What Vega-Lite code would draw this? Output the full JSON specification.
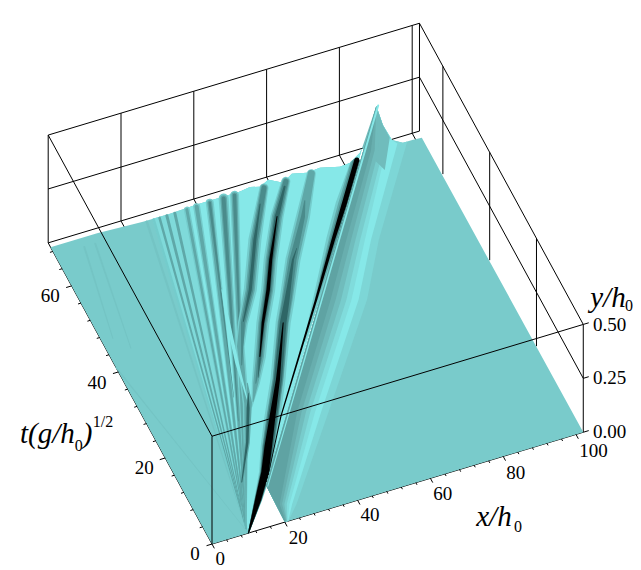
{"$schema":"https://vega.github.io/schema/vega-lite/v6.json","width":641,"height":570,"padding":0,"autosize":{"type":"fit","contains":"padding"},"background":"white","config":{"view":{"stroke":null}},
"data":{"values":[
{"k":"b","x":0,"t":70,"xe":102,"te":70},{"k":"b","x":0,"t":70,"y":0.25,"xe":102,"te":70,"ye":0.25},{"k":"b","x":0,"t":70,"y":0.5,"xe":102,"te":70,"ye":0.5},
{"k":"b","x":0,"t":70,"xe":0,"te":70,"ye":0.5},{"k":"b","x":20,"t":70,"xe":20,"te":70,"ye":0.5},{"k":"b","x":40,"t":70,"xe":40,"te":70,"ye":0.5},{"k":"b","x":60,"t":70,"xe":60,"te":70,"ye":0.5},{"k":"b","x":80,"t":70,"xe":80,"te":70,"ye":0.5},{"k":"b","x":100,"t":70,"xe":100,"te":70,"ye":0.5},{"k":"b","x":102,"t":70,"xe":102,"te":70,"ye":0.5},
{"k":"b","x":20,"t":70,"xe":20,"te":66},{"k":"b","x":40,"t":70,"xe":40,"te":66},{"k":"b","x":60,"t":70,"xe":60,"te":66},{"k":"b","x":80,"t":70,"xe":80,"te":66},{"k":"b","x":100,"t":70,"xe":100,"te":66},
{"k":"b","x":102,"t":0,"y":0.25,"xe":102,"te":70,"ye":0.25},{"k":"b","x":102,"t":0,"y":0.5,"xe":102,"te":70,"ye":0.5},{"k":"b","x":102,"t":20,"xe":102,"te":20,"ye":0.5},{"k":"b","x":102,"t":40,"xe":102,"te":40,"ye":0.5},{"k":"b","x":102,"t":60,"xe":102,"te":60,"ye":0.5},{"k":"b","x":102,"t":0,"xe":102,"te":0,"ye":0.5},
{"k":"b","x":0,"t":0,"xe":102,"te":0},{"k":"b","x":0,"t":0,"xe":0,"te":70},
{"k":"f","x":0,"t":0,"xe":0,"te":0,"ye":0.5},{"k":"f","x":0,"t":0,"y":0.5,"xe":102,"te":0,"ye":0.5},{"k":"f","x":0,"t":0,"y":0.5,"xe":0,"te":70,"ye":0.5},
{"k":"f","x":102,"t":0,"xe":103.5,"te":0},{"k":"f","x":102,"t":0,"y":0.25,"xe":103.5,"te":0,"ye":0.25},{"k":"f","x":102,"t":0,"y":0.5,"xe":103.5,"te":0,"ye":0.5},
{"k":"f","x":0,"t":0,"xe":0,"te":-1},{"k":"f","x":4,"t":0,"xe":4,"te":-0.5},{"k":"f","x":8,"t":0,"xe":8,"te":-0.5},{"k":"f","x":12,"t":0,"xe":12,"te":-0.5},{"k":"f","x":16,"t":0,"xe":16,"te":-0.5},{"k":"f","x":20,"t":0,"xe":20,"te":-1},{"k":"f","x":24,"t":0,"xe":24,"te":-0.5},{"k":"f","x":28,"t":0,"xe":28,"te":-0.5},{"k":"f","x":32,"t":0,"xe":32,"te":-0.5},{"k":"f","x":36,"t":0,"xe":36,"te":-0.5},{"k":"f","x":40,"t":0,"xe":40,"te":-1},{"k":"f","x":44,"t":0,"xe":44,"te":-0.5},{"k":"f","x":48,"t":0,"xe":48,"te":-0.5},{"k":"f","x":52,"t":0,"xe":52,"te":-0.5},{"k":"f","x":56,"t":0,"xe":56,"te":-0.5},{"k":"f","x":60,"t":0,"xe":60,"te":-1},{"k":"f","x":64,"t":0,"xe":64,"te":-0.5},{"k":"f","x":68,"t":0,"xe":68,"te":-0.5},{"k":"f","x":72,"t":0,"xe":72,"te":-0.5},{"k":"f","x":76,"t":0,"xe":76,"te":-0.5},{"k":"f","x":80,"t":0,"xe":80,"te":-1},{"k":"f","x":84,"t":0,"xe":84,"te":-0.5},{"k":"f","x":88,"t":0,"xe":88,"te":-0.5},{"k":"f","x":92,"t":0,"xe":92,"te":-0.5},{"k":"f","x":96,"t":0,"xe":96,"te":-0.5},{"k":"f","x":100,"t":0,"xe":100,"te":-1},
{"k":"f","x":0,"t":0,"xe":-1.5,"te":0},{"k":"f","x":0,"t":4,"xe":-0.8,"te":4},{"k":"f","x":0,"t":8,"xe":-0.8,"te":8},{"k":"f","x":0,"t":12,"xe":-0.8,"te":12},{"k":"f","x":0,"t":16,"xe":-0.8,"te":16},{"k":"f","x":0,"t":20,"xe":-1.5,"te":20},{"k":"f","x":0,"t":24,"xe":-0.8,"te":24},{"k":"f","x":0,"t":28,"xe":-0.8,"te":28},{"k":"f","x":0,"t":32,"xe":-0.8,"te":32},{"k":"f","x":0,"t":36,"xe":-0.8,"te":36},{"k":"f","x":0,"t":40,"xe":-1.5,"te":40},{"k":"f","x":0,"t":44,"xe":-0.8,"te":44},{"k":"f","x":0,"t":48,"xe":-0.8,"te":48},{"k":"f","x":0,"t":52,"xe":-0.8,"te":52},{"k":"f","x":0,"t":56,"xe":-0.8,"te":56},{"k":"f","x":0,"t":60,"xe":-1.5,"te":60},{"k":"f","x":0,"t":64,"xe":-0.8,"te":64},{"k":"f","x":0,"t":68,"xe":-0.8,"te":68},

{"k":"p","r":"L","c":"base","x":0,"t":0},{"k":"p","r":"L","c":"base","x":10,"t":0},{"k":"p","r":"L","c":"base","x":20.3,"t":8.5},{"k":"p","r":"L","c":"base","x":85.6,"t":69,"y":0.025},{"k":"p","r":"L","c":"base","x":85,"t":69,"y":0.006},{"k":"p","r":"L","c":"base","x":82.2,"t":69,"y":-0.027},{"k":"p","r":"L","c":"base","x":79.5,"t":69,"y":-0.031},{"k":"p","r":"L","c":"base","x":74,"t":69,"y":-0.008},{"k":"p","r":"L","c":"base","x":70.5,"t":69,"y":-0.013},{"k":"p","r":"L","c":"base","x":66.3,"t":69,"y":0.003},{"k":"p","r":"L","c":"base","x":63.9,"t":69,"y":-0.026},{"k":"p","r":"L","c":"base","x":59.8,"t":69,"y":0.009},{"k":"p","r":"L","c":"base","x":57.6,"t":69,"y":-0.012},{"k":"p","r":"L","c":"base","x":54.8,"t":69,"y":0},{"k":"p","r":"L","c":"base","x":52.1,"t":69,"y":-0.007},{"k":"p","r":"L","c":"base","x":47.4,"t":69,"y":-0.007},{"k":"p","r":"L","c":"base","x":40.2,"t":69,"y":-0.007},{"k":"p","r":"L","c":"base","x":32.8,"t":69,"y":-0.012},{"k":"p","r":"L","c":"base","x":25.4,"t":69,"y":-0.011},{"k":"p","r":"L","c":"base","x":12.8,"t":69,"y":0},{"k":"p","r":"L","c":"base","x":0,"t":69,"y":0},

{"k":"p","r":"W1","c":"pale","x":10,"t":0},{"k":"p","r":"W1","c":"pale","x":20.3,"t":8.5},{"k":"p","r":"W1","c":"pale","x":85.6,"t":69,"y":0.025},{"k":"p","r":"W1","c":"pale","x":85,"t":69,"y":0.006},{"k":"p","r":"W1","c":"pale","x":82.2,"t":69,"y":-0.027},{"k":"p","r":"W1","c":"pale","x":79.5,"t":69,"y":-0.031},{"k":"p","r":"W1","c":"pale","x":74,"t":69,"y":-0.008},{"k":"p","r":"W1","c":"pale","x":70.5,"t":69,"y":-0.013},{"k":"p","r":"W1","c":"pale","x":66.3,"t":69,"y":0.003},{"k":"p","r":"W1","c":"pale","x":63.9,"t":69,"y":-0.026},{"k":"p","r":"W1","c":"pale","x":59.8,"t":69,"y":0.009},{"k":"p","r":"W1","c":"pale","x":57.6,"t":69,"y":-0.012},{"k":"p","r":"W1","c":"pale","x":54.8,"t":69,"y":0},{"k":"p","r":"W1","c":"pale","x":52.1,"t":69,"y":-0.007},{"k":"p","r":"W1","c":"pale","x":47.4,"t":69,"y":-0.007},{"k":"p","r":"W1","c":"pale","x":40.2,"t":69,"y":-0.007},{"k":"p","r":"W1","c":"pale","x":32.8,"t":69,"y":-0.012},{"k":"p","r":"W1","c":"pale","x":28,"t":69,"y":-0.011},

{"k":"p","r":"W2","c":"light","x":10,"t":0},{"k":"p","r":"W2","c":"light","x":20.3,"t":8.5},{"k":"p","r":"W2","c":"light","x":85.6,"t":69,"y":0.025},{"k":"p","r":"W2","c":"light","x":85,"t":69,"y":0.006},{"k":"p","r":"W2","c":"light","x":82.2,"t":69,"y":-0.027},{"k":"p","r":"W2","c":"light","x":79.5,"t":69,"y":-0.031},{"k":"p","r":"W2","c":"light","x":74,"t":69,"y":-0.008},{"k":"p","r":"W2","c":"light","x":70.5,"t":69,"y":-0.013},{"k":"p","r":"W2","c":"light","x":66.3,"t":69,"y":0.003},{"k":"p","r":"W2","c":"light","x":63.9,"t":69,"y":-0.026},{"k":"p","r":"W2","c":"light","x":59.8,"t":69,"y":0.009},{"k":"p","r":"W2","c":"light","x":57.6,"t":69,"y":-0.012},{"k":"p","r":"W2","c":"light","x":54.8,"t":69,"y":0},{"k":"p","r":"W2","c":"light","x":52.1,"t":69,"y":-0.007},{"k":"p","r":"W2","c":"light","x":47.4,"t":69,"y":-0.007},{"k":"p","r":"W2","c":"light","x":40.2,"t":69,"y":-0.007},{"k":"p","r":"W2","c":"light","x":37,"t":69,"y":-0.01},

{"k":"s","r":"f1","c":"faint","x":10,"t":0,"w":0.5},{"k":"s","r":"f1","c":"faint","x":0,"t":41,"w":1.5},
{"k":"s","r":"f2","c":"faint","x":3,"t":47,"w":1},{"k":"s","r":"f2","c":"faint","x":8,"t":67,"w":2},
{"k":"s","r":"f3","c":"faint","x":6,"t":44,"w":1},{"k":"s","r":"f3","c":"faint","x":11,"t":67,"w":2},
{"k":"s","r":"a1","c":"faint","x":10,"t":1,"w":0.8},{"k":"s","r":"a1","c":"faint","x":26,"t":68.3,"w":2.5},
{"k":"s","r":"a2","c":"soft","x":10,"t":1,"w":0.8},{"k":"s","r":"a2","c":"soft","x":27.9,"t":68.3,"w":2.5},
{"k":"s","r":"a3","c":"mid","x":10,"t":1,"w":0.8},{"k":"s","r":"a3","c":"mid","x":29.5,"t":68.3,"w":2.5},
{"k":"s","r":"a4","c":"mid","x":10,"t":1,"w":0.8},{"k":"s","r":"a4","c":"mid","x":31.5,"t":68.3,"w":3},
{"k":"s","r":"a5","c":"mid","x":10,"t":1,"w":0.8},{"k":"s","r":"a5","c":"mid","x":33.7,"t":68.3,"w":3},
{"k":"s","r":"a6","c":"soft","x":10,"t":1,"w":1.2},{"k":"s","r":"a6","c":"soft","x":37,"t":68.3,"w":6},
{"k":"s","r":"a7","c":"soft","x":10,"t":1,"w":1.2},{"k":"s","r":"a7","c":"soft","x":39.7,"t":68.3,"w":7},
{"k":"s","r":"a8","c":"soft","x":10,"t":1,"w":1.2},{"k":"s","r":"a8","c":"soft","x":43.3,"t":68.3,"w":8},
{"k":"s","r":"a9","c":"soft","x":10,"t":1,"w":1.2},{"k":"s","r":"a9","c":"soft","x":47.1,"t":68.3,"w":10},
{"k":"s","r":"a10","c":"soft","x":10,"t":1,"w":1.2},{"k":"s","r":"a10","c":"soft","x":50.1,"t":68.3,"w":9},
{"k":"s","r":"m6","c":"mid","x":10,"t":1,"w":0.8},{"k":"s","r":"m6","c":"mid","x":37,"t":68.3,"w":3},
{"k":"s","r":"m7","c":"mid","x":10,"t":1,"w":0.8},{"k":"s","r":"m7","c":"mid","x":39.7,"t":68.3,"w":4},
{"k":"s","r":"m8","c":"mid","x":10,"t":1,"w":0.8},{"k":"s","r":"m8","c":"mid","x":43.3,"t":68.3,"w":5},
{"k":"s","r":"m9","c":"mid","x":10,"t":1,"w":0.8},{"k":"s","r":"m9","c":"mid","x":47.1,"t":68.3,"w":6.5},
{"k":"s","r":"m10","c":"mid","x":10,"t":1,"w":0.8},{"k":"s","r":"m10","c":"mid","x":50.1,"t":68.3,"w":6},
{"k":"s","r":"d8","c":"deep","x":24,"t":28,"w":0.5},{"k":"s","r":"d8","c":"deep","x":43.3,"t":68.3,"w":2.5},
{"k":"s","r":"d9","c":"deep","x":22,"t":23,"w":0.5},{"k":"s","r":"d9","c":"deep","x":47.1,"t":68.3,"w":4},
{"k":"s","r":"d10","c":"deep","x":28,"t":31,"w":0.5},{"k":"s","r":"d10","c":"deep","x":50.1,"t":68.3,"w":3.5},
{"k":"s","r":"s2s","c":"soft","x":58,"t":68,"w":9},{"k":"s","r":"s2s","c":"soft","x":49.2,"t":58.2,"w":13},{"k":"s","r":"s2s","c":"soft","x":41.7,"t":48.5,"w":13},{"k":"s","r":"s2s","c":"soft","x":35.7,"t":42.3,"w":10},{"k":"s","r":"s2s","c":"soft","x":32,"t":37.8,"w":9},{"k":"s","r":"s2s","c":"soft","x":26,"t":26,"w":6},{"k":"s","r":"s2s","c":"soft","x":10,"t":1,"w":1},
{"k":"s","r":"s2m","c":"mid","x":58,"t":68,"w":7},{"k":"s","r":"s2m","c":"mid","x":49.2,"t":58.2,"w":9},{"k":"s","r":"s2m","c":"mid","x":41.7,"t":48.5,"w":9},{"k":"s","r":"s2m","c":"mid","x":35.7,"t":42.3,"w":7},{"k":"s","r":"s2m","c":"mid","x":32,"t":37.8,"w":6},{"k":"s","r":"s2m","c":"mid","x":26,"t":26,"w":3},{"k":"s","r":"s2m","c":"mid","x":10,"t":1,"w":0.6},
{"k":"s","r":"s2e","c":"deep","x":58,"t":68,"w":5},{"k":"s","r":"s2e","c":"deep","x":49.2,"t":58.2,"w":6},{"k":"s","r":"s2e","c":"deep","x":41.7,"t":48.5,"w":6},{"k":"s","r":"s2e","c":"deep","x":35.7,"t":42.3,"w":4},{"k":"s","r":"s2e","c":"deep","x":30,"t":34,"w":1},
{"k":"s","r":"s2d","c":"dark","x":55,"t":65,"w":1},{"k":"s","r":"s2d","c":"dark","x":49.2,"t":58.2,"w":3},{"k":"s","r":"s2d","c":"dark","x":41.7,"t":48.5,"w":3},{"k":"s","r":"s2d","c":"dark","x":36,"t":42.6,"w":1},
{"k":"s","r":"lx","c":"light","x":35,"t":50.2,"w":1},{"k":"s","r":"lx","c":"light","x":32.7,"t":44.5,"w":3.5},{"k":"s","r":"lx","c":"light","x":29.2,"t":34.8,"w":3.5},{"k":"s","r":"lx","c":"light","x":26.9,"t":26.8,"w":1},
{"k":"s","r":"s1s","c":"soft","x":64,"t":68,"w":9},{"k":"s","r":"s1s","c":"soft","x":57.4,"t":61.5,"w":13},{"k":"s","r":"s1s","c":"soft","x":50.4,"t":53.3,"w":14},{"k":"s","r":"s1s","c":"soft","x":45.9,"t":47.4,"w":14},{"k":"s","r":"s1s","c":"soft","x":40.4,"t":41.1,"w":13},{"k":"s","r":"s1s","c":"soft","x":35.4,"t":34.6,"w":12},{"k":"s","r":"s1s","c":"soft","x":31,"t":29.5,"w":8},{"k":"s","r":"s1s","c":"soft","x":27,"t":25,"w":1},
{"k":"s","r":"s1m","c":"mid","x":64,"t":68,"w":7},{"k":"s","r":"s1m","c":"mid","x":57.4,"t":61.5,"w":10},{"k":"s","r":"s1m","c":"mid","x":50.4,"t":53.3,"w":10},{"k":"s","r":"s1m","c":"mid","x":45.9,"t":47.4,"w":10},{"k":"s","r":"s1m","c":"mid","x":40.4,"t":41.1,"w":9},{"k":"s","r":"s1m","c":"mid","x":35.4,"t":34.6,"w":8},{"k":"s","r":"s1m","c":"mid","x":31,"t":29.5,"w":5},{"k":"s","r":"s1m","c":"mid","x":28,"t":26,"w":1},
{"k":"s","r":"s1e","c":"deep","x":64,"t":68,"w":5},{"k":"s","r":"s1e","c":"deep","x":57.4,"t":61.5,"w":7},{"k":"s","r":"s1e","c":"deep","x":50.4,"t":53.3,"w":7.5},{"k":"s","r":"s1e","c":"deep","x":45.9,"t":47.4,"w":7.5},{"k":"s","r":"s1e","c":"deep","x":40.4,"t":41.1,"w":6.5},{"k":"s","r":"s1e","c":"deep","x":35.4,"t":34.6,"w":5},{"k":"s","r":"s1e","c":"deep","x":31,"t":29.5,"w":1},
{"k":"s","r":"s1d","c":"dark","x":63,"t":67,"w":2},{"k":"s","r":"s1d","c":"dark","x":57.4,"t":61.5,"w":4.5},{"k":"s","r":"s1d","c":"dark","x":50.4,"t":53.3,"w":5},{"k":"s","r":"s1d","c":"dark","x":45.9,"t":47.4,"w":5},{"k":"s","r":"s1d","c":"dark","x":40.4,"t":41.1,"w":4},{"k":"s","r":"s1d","c":"dark","x":35.4,"t":34.6,"w":2.5},{"k":"s","r":"s1d","c":"dark","x":32.3,"t":30.5,"w":0.5},
{"k":"s","r":"s1b","c":"black","x":57.4,"t":61.5,"w":1},{"k":"s","r":"s1b","c":"black","x":50.4,"t":53.3,"w":3},{"k":"s","r":"s1b","c":"black","x":45.9,"t":47.4,"w":3.5},{"k":"s","r":"s1b","c":"black","x":40.4,"t":41.1,"w":2.5},{"k":"s","r":"s1b","c":"black","x":35.4,"t":34.6,"w":1},
{"k":"s","r":"s3m","c":"mid","x":29,"t":30,"w":1},{"k":"s","r":"s3m","c":"mid","x":27,"t":26,"w":5},{"k":"s","r":"s3m","c":"mid","x":21.4,"t":18.2,"w":5},{"k":"s","r":"s3m","c":"mid","x":15,"t":10.6,"w":3},{"k":"s","r":"s3m","c":"mid","x":11.7,"t":6.3,"w":1},
{"k":"s","r":"s3d","c":"dark","x":28,"t":28,"w":0.5},{"k":"s","r":"s3d","c":"dark","x":26,"t":25,"w":3},{"k":"s","r":"s3d","c":"dark","x":21.4,"t":18.2,"w":2.5},{"k":"s","r":"s3d","c":"dark","x":15,"t":10.6,"w":1},
{"k":"s","r":"s0s","c":"soft","x":71,"t":68,"w":9},{"k":"s","r":"s0s","c":"soft","x":63.5,"t":59.9,"w":14},{"k":"s","r":"s0s","c":"soft","x":55.6,"t":51.9,"w":15},{"k":"s","r":"s0s","c":"soft","x":49.1,"t":44.3,"w":15},{"k":"s","r":"s0s","c":"soft","x":45.2,"t":39.9,"w":15},{"k":"s","r":"s0s","c":"soft","x":36.7,"t":28.9,"w":15},{"k":"s","r":"s0s","c":"soft","x":30.2,"t":21.3,"w":16},{"k":"s","r":"s0s","c":"soft","x":25.8,"t":16.1,"w":15},{"k":"s","r":"s0s","c":"soft","x":21.7,"t":11.1,"w":12},{"k":"s","r":"s0s","c":"soft","x":16.7,"t":6.2,"w":8},{"k":"s","r":"s0s","c":"soft","x":10,"t":0,"w":1},
{"k":"s","r":"s0m","c":"mid","x":71,"t":68,"w":7},{"k":"s","r":"s0m","c":"mid","x":63.5,"t":59.9,"w":10},{"k":"s","r":"s0m","c":"mid","x":55.6,"t":51.9,"w":11},{"k":"s","r":"s0m","c":"mid","x":49.1,"t":44.3,"w":11},{"k":"s","r":"s0m","c":"mid","x":45.2,"t":39.9,"w":11},{"k":"s","r":"s0m","c":"mid","x":36.7,"t":28.9,"w":11},{"k":"s","r":"s0m","c":"mid","x":30.2,"t":21.3,"w":12},{"k":"s","r":"s0m","c":"mid","x":25.8,"t":16.1,"w":12},{"k":"s","r":"s0m","c":"mid","x":21.7,"t":11.1,"w":10},{"k":"s","r":"s0m","c":"mid","x":16.7,"t":6.2,"w":7},{"k":"s","r":"s0m","c":"mid","x":10,"t":0,"w":1},
{"k":"s","r":"s0e","c":"deep","x":66,"t":63,"w":1},{"k":"s","r":"s0e","c":"deep","x":63.5,"t":59.9,"w":4},{"k":"s","r":"s0e","c":"deep","x":55.6,"t":51.9,"w":7},{"k":"s","r":"s0e","c":"deep","x":49.1,"t":44.3,"w":9},{"k":"s","r":"s0e","c":"deep","x":45.2,"t":39.9,"w":9.5},{"k":"s","r":"s0e","c":"deep","x":36.7,"t":28.9,"w":10},{"k":"s","r":"s0e","c":"deep","x":30.2,"t":21.3,"w":11},{"k":"s","r":"s0e","c":"deep","x":25.8,"t":16.1,"w":11},{"k":"s","r":"s0e","c":"deep","x":21.7,"t":11.1,"w":9},{"k":"s","r":"s0e","c":"deep","x":16.7,"t":6.2,"w":7},{"k":"s","r":"s0e","c":"deep","x":10,"t":0,"w":1},
{"k":"s","r":"s0d","c":"dark","x":58,"t":54,"w":0.5},{"k":"s","r":"s0d","c":"dark","x":55.6,"t":51.9,"w":2},{"k":"s","r":"s0d","c":"dark","x":49.1,"t":44.3,"w":5},{"k":"s","r":"s0d","c":"dark","x":45.2,"t":39.9,"w":6.5},{"k":"s","r":"s0d","c":"dark","x":36.7,"t":28.9,"w":8},{"k":"s","r":"s0d","c":"dark","x":30.2,"t":21.3,"w":9},{"k":"s","r":"s0d","c":"dark","x":25.8,"t":16.1,"w":9.5},{"k":"s","r":"s0d","c":"dark","x":21.7,"t":11.1,"w":8.5},{"k":"s","r":"s0d","c":"dark","x":16.7,"t":6.2,"w":6.5},{"k":"s","r":"s0d","c":"dark","x":10,"t":0,"w":1},
{"k":"s","r":"s0b","c":"black","x":45.2,"t":39.9,"w":1},{"k":"s","r":"s0b","c":"black","x":36.7,"t":28.9,"w":4},{"k":"s","r":"s0b","c":"black","x":30.2,"t":21.3,"w":6},{"k":"s","r":"s0b","c":"black","x":25.8,"t":16.1,"w":7.5},{"k":"s","r":"s0b","c":"black","x":21.7,"t":11.1,"w":7.5},{"k":"s","r":"s0b","c":"black","x":16.7,"t":6.2,"w":6},{"k":"s","r":"s0b","c":"black","x":10,"t":0,"w":1},
{"k":"s","r":"rs","c":"soft","x":48,"t":35,"w":2},{"k":"s","r":"rs","c":"soft","x":67.7,"t":53.5,"w":14},{"k":"s","r":"rs","c":"soft","x":74.8,"t":59.9,"w":17},{"k":"s","r":"rs","c":"soft","x":82.5,"t":67,"w":12},
{"k":"s","r":"rm","c":"mid","x":55.9,"t":42.5,"w":3},{"k":"s","r":"rm","c":"mid","x":67.7,"t":53.5,"w":9},{"k":"s","r":"rm","c":"mid","x":74.8,"t":59.9,"w":12},{"k":"s","r":"rm","c":"mid","x":82.5,"t":67,"w":11},
{"k":"s","r":"re","c":"deep","x":60,"t":46.5,"w":3},{"k":"s","r":"re","c":"deep","x":67.7,"t":53.5,"w":6},{"k":"s","r":"re","c":"deep","x":74.8,"t":59.9,"w":8},{"k":"s","r":"re","c":"deep","x":83,"t":67.5,"w":8},
{"k":"s","r":"rb","c":"black","x":20.3,"t":8.5,"w":0.5},{"k":"s","r":"rb","c":"black","x":32.7,"t":21.4,"w":1.2},{"k":"s","r":"rb","c":"black","x":55.9,"t":42.5,"w":2.2},{"k":"s","r":"rb","c":"black","x":67.7,"t":53.5,"w":3.5},{"k":"s","r":"rb","c":"black","x":74.8,"t":59.9,"w":5},{"k":"s","r":"rb","c":"black","x":83.5,"t":68,"w":5},

{"k":"P","r":"R","c":"base","x":20,"t":0},{"k":"P","r":"R","c":"base","x":20.3,"t":8.5},{"k":"P","r":"R","c":"base","x":89.5,"t":69,"y":0.2},{"k":"P","r":"R","c":"base","x":91.3,"t":69,"y":0.103},{"k":"P","r":"R","c":"base","x":93.8,"t":69,"y":0.02},{"k":"P","r":"R","c":"base","x":96.8,"t":69,"y":-0.008},{"k":"P","r":"R","c":"base","x":99.6,"t":69,"y":-0.008},{"k":"P","r":"R","c":"base","x":102,"t":69,"y":-0.011},{"k":"P","r":"R","c":"base","x":102,"t":0},

{"k":"P","r":"B7","c":"g1","x":20,"t":0},{"k":"P","r":"B7","c":"g1","x":20.3,"t":8.5},{"k":"P","r":"B7","c":"g1","x":89.5,"t":69,"y":0.2},{"k":"P","r":"B7","c":"g1","x":91.3,"t":69,"y":0.103},{"k":"P","r":"B7","c":"g1","x":93.8,"t":69,"y":0.02},{"k":"P","r":"B7","c":"g1","x":96.8,"t":69,"y":-0.008},{"k":"P","r":"B7","c":"g1","x":98,"t":69,"y":-0.008},{"k":"P","r":"B7","c":"g1","x":78.5,"t":50.8},{"k":"P","r":"B7","c":"g1","x":68,"t":39.5},{"k":"P","r":"B7","c":"g1","x":44.4,"t":19.3},{"k":"P","r":"B7","c":"g1","x":25.1,"t":2.9},{"k":"P","r":"B7","c":"g1","x":21,"t":0},
{"k":"P","r":"B6","c":"light","x":20,"t":0},{"k":"P","r":"B6","c":"light","x":20.3,"t":8.5},{"k":"P","r":"B6","c":"light","x":89.5,"t":69,"y":0.2},{"k":"P","r":"B6","c":"light","x":91.3,"t":69,"y":0.103},{"k":"P","r":"B6","c":"light","x":93.8,"t":69,"y":0.02},{"k":"P","r":"B6","c":"light","x":95.3,"t":69,"y":-0.004},{"k":"P","r":"B6","c":"light","x":76.6,"t":51.2},{"k":"P","r":"B6","c":"light","x":66,"t":40},{"k":"P","r":"B6","c":"light","x":42.6,"t":19.7},{"k":"P","r":"B6","c":"light","x":24.1,"t":3.2},{"k":"P","r":"B6","c":"light","x":20.9,"t":0},
{"k":"P","r":"B5","c":"g2","x":20,"t":0},{"k":"P","r":"B5","c":"g2","x":20.3,"t":8.5},{"k":"P","r":"B5","c":"g2","x":89.5,"t":69,"y":0.2},{"k":"P","r":"B5","c":"g2","x":91.3,"t":69,"y":0.103},{"k":"P","r":"B5","c":"g2","x":93,"t":69,"y":0.04},{"k":"P","r":"B5","c":"g2","x":75.2,"t":51.6},{"k":"P","r":"B5","c":"g2","x":64.3,"t":40.4},{"k":"P","r":"B5","c":"g2","x":41.2,"t":20.1},{"k":"P","r":"B5","c":"g2","x":23.4,"t":3.3},{"k":"P","r":"B5","c":"g2","x":20.8,"t":0},
{"k":"P","r":"B4","c":"g3","x":20,"t":0},{"k":"P","r":"B4","c":"g3","x":20.3,"t":8.5},{"k":"P","r":"B4","c":"g3","x":89.5,"t":69,"y":0.2},{"k":"P","r":"B4","c":"g3","x":91,"t":68.4},{"k":"P","r":"B4","c":"g3","x":74.1,"t":51.9},{"k":"P","r":"B4","c":"g3","x":63.1,"t":40.7},{"k":"P","r":"B4","c":"g3","x":40.1,"t":20.4},{"k":"P","r":"B4","c":"g3","x":22.8,"t":3.5},{"k":"P","r":"B4","c":"g3","x":20.7,"t":0.1},
{"k":"P","r":"K","c":"g4","x":89.5,"t":69,"y":0.2},{"k":"P","r":"K","c":"g4","x":91.3,"t":69,"y":0.103},{"k":"P","r":"K","c":"g4","x":93.2,"t":69,"y":0.035},{"k":"P","r":"K","c":"g4","x":88.8,"t":64.3},{"k":"P","r":"K","c":"g4","x":85.6,"t":69,"y":0.025},
{"k":"P","r":"B3","c":"g4","x":20,"t":0},{"k":"P","r":"B3","c":"g4","x":20.3,"t":8.5},{"k":"P","r":"B3","c":"g4","x":89.5,"t":69,"y":0.2},{"k":"P","r":"B3","c":"g4","x":90,"t":68.7},{"k":"P","r":"B3","c":"g4","x":73,"t":52.2},{"k":"P","r":"B3","c":"g4","x":61.8,"t":41},{"k":"P","r":"B3","c":"g4","x":39.1,"t":20.7},{"k":"P","r":"B3","c":"g4","x":22.2,"t":3.6},{"k":"P","r":"B3","c":"g4","x":20.6,"t":0.1},
{"k":"P","r":"B2","c":"g5","x":20,"t":0},{"k":"P","r":"B2","c":"g5","x":20.3,"t":8.5},{"k":"P","r":"B2","c":"g5","x":89.5,"t":69,"y":0.2},{"k":"P","r":"B2","c":"g5","x":89,"t":68.9},{"k":"P","r":"B2","c":"g5","x":71.9,"t":52.4},{"k":"P","r":"B2","c":"g5","x":60.6,"t":41.4},{"k":"P","r":"B2","c":"g5","x":38,"t":20.9},{"k":"P","r":"B2","c":"g5","x":21.7,"t":3.8},{"k":"P","r":"B2","c":"g5","x":20.5,"t":0.1},
{"k":"P","r":"B1","c":"g6","x":20,"t":0},{"k":"P","r":"B1","c":"g6","x":20.3,"t":8.5},{"k":"P","r":"B1","c":"g6","x":89.5,"t":69,"y":0.2},{"k":"P","r":"B1","c":"g6","x":88,"t":69},{"k":"P","r":"B1","c":"g6","x":70.8,"t":52.7},{"k":"P","r":"B1","c":"g6","x":59.4,"t":41.7},{"k":"P","r":"B1","c":"g6","x":37,"t":21.2},{"k":"P","r":"B1","c":"g6","x":21.1,"t":3.9},{"k":"P","r":"B1","c":"g6","x":20.3,"t":0.2},

{"k":"S","r":"gh","c":"light","x":20.6,"t":8.2,"w":1},{"k":"S","r":"gh","c":"light","x":90,"t":69,"y":0.2,"w":2},

{"k":"l","x":0,"t":-3.5,"label":"0"},{"k":"l","x":21.1,"t":-4,"label":"20"},{"k":"l","x":41,"t":-3.7,"label":"40"},{"k":"l","x":60.9,"t":-3.9,"label":"60"},{"k":"l","x":80.8,"t":-4.1,"label":"80"},{"k":"l","x":102,"t":-4.4,"label":"100"},
{"k":"l","x":-5.3,"t":-1,"label":"0"},{"k":"l","x":-6.3,"t":19.2,"label":"20"},{"k":"l","x":-6.5,"t":39,"label":"40"},{"k":"l","x":-6.3,"t":59.3,"label":"60"},
{"k":"l","x":108.2,"t":-1.6,"y":0,"label":"0.00"},{"k":"l","x":108.2,"t":-1.6,"y":0.25,"label":"0.25"},{"k":"l","x":108.2,"t":-1.6,"y":0.5,"label":"0.50"},
{"k":"T","x":70,"t":-11.6,"label":"x/h"},{"k":"T","x":125.1,"t":25.4,"label":"y/h"},{"k":"T","x":-24.8,"t":31.8,"label":"t(g/h"},{"k":"T","x":-15.3,"t":29.4,"label":")"},
{"k":"u","x":74.4,"t":-15,"label":"0"},{"k":"u","x":129,"t":22.5,"label":"0"},{"k":"u","x":-18.9,"t":27.5,"label":"0"},{"k":"u","x":-10.1,"t":30.9,"label":"1/2"}
]},
"transform":[
{"window":[{"op":"row_number","as":"i"}]},
{"calculate":"212+3.64*datum.x-2.34*datum.t","as":"sx"},
{"calculate":"545-1.098*datum.x-4.31*datum.t-216*(datum.y||0)","as":"sy"},
{"calculate":"212+3.64*datum.xe-2.34*datum.te","as":"sx2"},
{"calculate":"545-1.098*datum.xe-4.31*datum.te-216*(datum.ye||0)","as":"sy2"}
],
"encoding":{
"x":{"field":"sx","type":"quantitative","axis":null,"scale":{"domain":[0,641],"nice":false,"zero":false}},
"y":{"field":"sy","type":"quantitative","axis":null,"scale":{"domain":[570,0],"nice":false,"zero":false}}
},
"layer":[
{"transform":[{"filter":"datum.k==='b'"}],"mark":{"type":"rule","color":"black","strokeWidth":1},"encoding":{"x2":{"field":"sx2"},"y2":{"field":"sy2"}}},
{"transform":[{"filter":"datum.k==='p'"}],"mark":{"type":"line","strokeWidth":0.5,"filled":true},"encoding":{"order":{"field":"i","type":"quantitative"},"detail":{"field":"r"},"color":{"field":"c","type":"nominal","legend":null,"scale":{"domain":["base","pale","light","faint","soft","mid","deep","dark","black","g1","g2","g3","g4","g5","g6"],"range":["#79cbcb","#7fdada","#86e8e8","#74c4c4","#74cccc","#5fa8a8","#4a8b8b","#2f6666","#000000","#7dd6d6","#80dcdc","#78cccc","#70bcbc","#68aeae","#5fa3a3"]}}}},
{"transform":[{"filter":"datum.k==='s'"}],"mark":{"type":"trail"},"encoding":{"order":{"field":"i","type":"quantitative"},"detail":{"field":"r"},"size":{"field":"w","type":"quantitative","legend":null,"scale":{"domain":[0,20],"range":[0,20]}},"color":{"field":"c","type":"nominal","legend":null}}},
{"transform":[{"filter":"datum.k==='P'"}],"mark":{"type":"line","strokeWidth":0.5,"filled":true},"encoding":{"order":{"field":"i","type":"quantitative"},"detail":{"field":"r"},"color":{"field":"c","type":"nominal","legend":null}}},
{"transform":[{"filter":"datum.k==='S'"}],"mark":{"type":"trail"},"encoding":{"order":{"field":"i","type":"quantitative"},"detail":{"field":"r"},"size":{"field":"w","type":"quantitative","legend":null},"color":{"field":"c","type":"nominal","legend":null}}},
{"transform":[{"filter":"datum.k==='f'"}],"mark":{"type":"rule","color":"black","strokeWidth":1},"encoding":{"x2":{"field":"sx2"},"y2":{"field":"sy2"}}},
{"transform":[{"filter":"datum.k==='l'"}],"mark":{"type":"text","font":"Liberation Serif","fontSize":19,"color":"black","baseline":"middle"},"encoding":{"text":{"field":"label"}}},
{"transform":[{"filter":"datum.k==='T'"}],"mark":{"type":"text","font":"Liberation Serif","fontStyle":"italic","fontSize":29,"color":"black","baseline":"middle"},"encoding":{"text":{"field":"label"}}},
{"transform":[{"filter":"datum.k==='u'"}],"mark":{"type":"text","font":"Liberation Serif","fontSize":16,"color":"black","baseline":"middle"},"encoding":{"text":{"field":"label"}}}
]}
